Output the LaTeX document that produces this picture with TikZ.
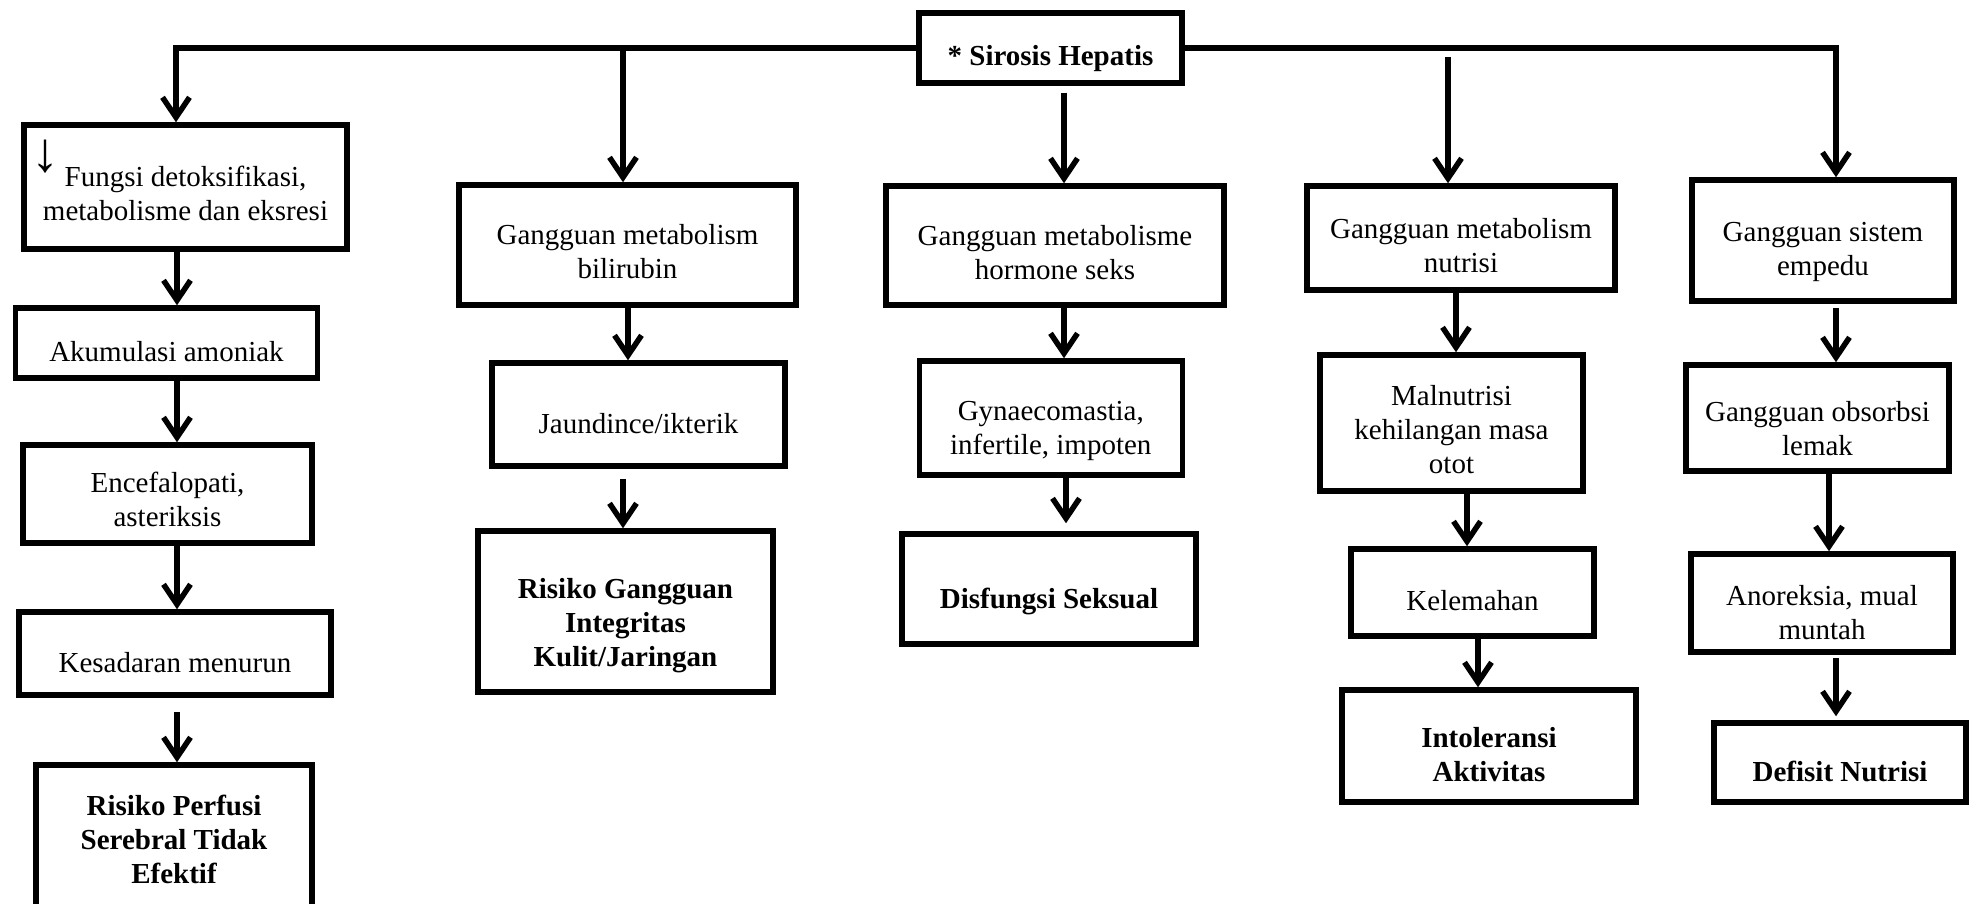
\documentclass[tikz,border=0pt]{standalone}
\usepackage{fontspec}
\setmainfont{Liberation Serif}
\usetikzlibrary{arrows.meta}
\newcommand\fsz{\fontsize{29}{34}\selectfont}
% lowered multi-line text, keeping the node's reserved size
\newcommand\T[2][10pt]{\raisebox{-#1}[\height][\depth]{\begin{tabular}{@{}c@{}}#2\end{tabular}}}
\begin{document}
\begin{tikzpicture}[x=1pt,y=-1pt,
  box/.style={draw, line width=5.5pt, inner sep=0pt, align=center, font=\fsz},
  fin/.style={box, font=\fsz\bfseries},
  arr/.style={line width=5.5pt, -{Straight Barb[length=20pt,width=27pt]}}]
\useasboundingbox (0,0) rectangle (1982,904);
\clip (0,0) rectangle (1982,904);

% top node
\node[fin, minimum width=263, minimum height=70] (S) at (1050.5,48) {\T[11pt]{* Sirosis Hepatis}};

% column A
\node[box, minimum width=323, minimum height=124] (A1) at (185.5,187) {\T[10pt]{Fungsi detoksifikasi,\\metabolisme dan eksresi}};
\node[font=\fontsize{56}{56}\selectfont, inner sep=0pt] (dn) at (45,157) {↓};
\node[box, minimum width=302, minimum height=70] (A2) at (166.5,343) {\T[12pt]{Akumulasi amoniak}};
\node[box, minimum width=289, minimum height=98] (A3) at (167.5,494) {\T[9pt]{Encefalopati,\\asteriksis}};
\node[box, minimum width=312, minimum height=83] (A4) at (175,653.5) {\T[12pt]{Kesadaran menurun}};
\node[fin, minimum width=276, minimum height=162] (A5) at (174,846) {\T[-3pt]{Risiko Perfusi\\Serebral Tidak\\Efektif}};

% column B
\node[box, minimum width=337, minimum height=120] (B1) at (627.5,245) {\T[10pt]{Gangguan metabolism\\bilirubin}};
\node[box, minimum width=293, minimum height=103] (B2) at (638.5,414.5) {\T[12pt]{Jaundince/ikterik}};
\node[fin, minimum width=295, minimum height=161] (B3) at (625.5,611.5) {\T[14pt]{Risiko Gangguan\\Integritas\\Kulit/Jaringan}};

% column C
\node[box, minimum width=338, minimum height=119] (C1) at (1055,245.5) {\T[10pt]{Gangguan metabolisme\\hormone seks}};
\node[box, minimum width=263, minimum height=114] (C2) at (1050.75,418) {\T[13pt]{Gynaecomastia,\\infertile, impoten}};
\node[fin, minimum width=294, minimum height=110] (C3) at (1049,589) {\T[13pt]{Disfungsi Seksual}};

% column D
\node[box, minimum width=308, minimum height=104] (D1) at (1461,238) {\T[11pt]{Gangguan metabolism\\nutrisi}};
\node[box, minimum width=263, minimum height=136] (D2) at (1451.5,423) {\T[10pt]{Malnutrisi\\kehilangan masa\\otot}};
\node[box, minimum width=243, minimum height=87] (D3) at (1472.5,592.5) {\T[11pt]{Kelemahan}};
\node[fin, minimum width=294, minimum height=112] (D4) at (1489,746) {\T[12pt]{Intoleransi\\Aktivitas}};

% column E
\node[box, minimum width=262, minimum height=121] (E1) at (1823,240.5) {\T[11pt]{Gangguan sistem\\empedu}};
\node[box, minimum width=263, minimum height=106] (E2) at (1817.5,418) {\T[14pt]{Gangguan obsorbsi\\lemak}};
\node[box, minimum width=262, minimum height=98] (E3) at (1822,603) {\T[13pt]{Anoreksia, mual\\muntah}};
\node[fin, minimum width=252, minimum height=79] (E4) at (1840,762.5) {\T[12pt]{Defisit Nutrisi}};

% connector x positions
\coordinate (xA) at (176,0);
\coordinate (xA2) at (177,0);
\coordinate (xB) at (623,0);
\coordinate (xB2) at (628,0);
\coordinate (xC) at (1064,0);
\coordinate (xC2) at (1066,0);
\coordinate (xD) at (1448,0);
\coordinate (xD2) at (1456,0);
\coordinate (xD3) at (1467,0);
\coordinate (xD4) at (1478,0);
\coordinate (xE) at (1836,0);
\coordinate (xE2) at (1829,0);

% top connectors
\draw[arr] (S.west) -| (A1.north -| xA);
\draw[arr] (S.east) -| (E1.north -| xE);
\draw[arr] (S.west -| xB) -- (B1.north -| xB);
\draw[arr, shorten <=9pt] (S.east -| xD) -- (D1.north -| xD);
\draw[arr, shorten <=7pt] (S.south -| xC) -- (C1.north -| xC);

% column A
\draw[arr] (A1.south -| xA2) -- (A2.north -| xA2);
\draw[arr] (A2.south -| xA2) -- (A3.north -| xA2);
\draw[arr] (A3.south -| xA2) -- (A4.north -| xA2);
\draw[arr, shorten <=14pt] (A4.south -| xA2) -- (A5.north -| xA2);

% column B
\draw[arr] (B1.south -| xB2) -- (B2.north -| xB2);
\draw[arr, shorten <=10pt] (B2.south -| xB) -- (B3.north -| xB);

% column C
\draw[arr] (C1.south -| xC) -- (C2.north -| xC);
\draw[arr, shorten >=8pt] (C2.south -| xC2) -- (C3.north -| xC2);

% column D
\draw[arr] (D1.south -| xD2) -- (D2.north -| xD2);
\draw[arr] (D2.south -| xD3) -- (D3.north -| xD3);
\draw[arr] (D3.south -| xD4) -- (D4.north -| xD4);

% column E
\draw[arr, shorten <=4pt] (E1.south -| xE) -- (E2.north -| xE);
\draw[arr] (E2.south -| xE2) -- (E3.north -| xE2);
\draw[arr, shorten <=3pt, shorten >=4pt] (E3.south -| xE) -- (E4.north -| xE);
\end{tikzpicture}
\end{document}
